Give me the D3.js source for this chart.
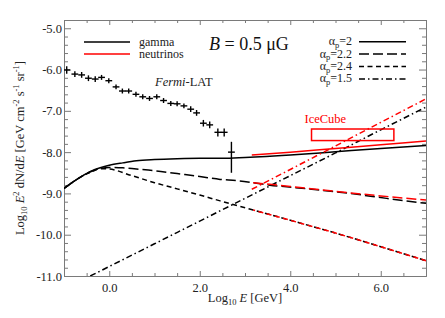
<!DOCTYPE html>
<html lang="en">
<head>
<meta charset="UTF-8">
<title>Gamma and neutrino spectra</title>
<script src="https://cdnjs.cloudflare.com/ajax/libs/d3/7.8.5/d3.min.js"></script>
<style>
  body { margin: 0; background: #fff; }
  svg { display: block; }
  .axis path, .axis line { stroke: #7a7a7a; }
  .axis text { fill: #222; font-size: 12.5px; }
</style>
</head>
<body>
<svg width="445" height="318"></svg>
<script>
// Fermi-LAT points (log10 E, log10 E^2 dN/dE, error)
const fermiX = [-0.94, -0.76, -0.61, -0.46, -0.31, -0.17, -0.01, 0.15, 0.29, 0.43, 0.59, 0.74, 0.89,
                1.05, 1.20, 1.36, 1.50, 1.65, 1.80, 1.93, 2.08, 2.22, 2.40, 2.54, 2.70];
const fermiY = [-6.01, -6.11, -6.13, -6.21, -6.23, -6.19, -6.27, -6.42, -6.52, -6.52, -6.60, -6.66, -6.70,
                -6.66, -6.75, -6.82, -6.83, -6.88, -6.96, -7.05, -7.30, -7.34, -7.52, -7.52, -8.00];
const fermiErrUp = [0.09, 0.07, 0.07, 0.07, 0.07, 0.06, 0.06, 0.06, 0.06, 0.06, 0.06, 0.06, 0.06,
                    0.06, 0.06, 0.06, 0.06, 0.06, 0.07, 0.07, 0.08, 0.08, 0.09, 0.09, 0.25];
const fermiErrDn = [0.09, 0.07, 0.07, 0.07, 0.07, 0.06, 0.06, 0.06, 0.06, 0.06, 0.06, 0.06, 0.06,
                    0.06, 0.06, 0.06, 0.06, 0.06, 0.07, 0.07, 0.08, 0.08, 0.10, 0.10, 0.50];

// gamma-ray curves
const gamma2X  = [-1, -0.8, -0.6, -0.4, -0.2, 0, 0.3, 0.6, 1.0, 1.5, 2.0, 2.5, 3.0, 4.0, 5.0, 6.0, 7.0];
const gamma2Y  = [-8.88, -8.72, -8.58, -8.46, -8.38, -8.32, -8.26, -8.21, -8.18, -8.16, -8.15, -8.15, -8.13, -8.07, -7.99, -7.91, -7.84];
const gamma22X = [-1, -0.8, -0.6, -0.4, -0.2, 0, 0.3, 0.6, 1.0, 1.5, 2.0, 2.45, 2.82, 3.18, 3.55, 3.92, 4.66, 5.39, 6.13, 7.0];
const gamma22Y = [-8.88, -8.72, -8.58, -8.47, -8.40, -8.37, -8.38, -8.41, -8.45, -8.52, -8.59, -8.66, -8.69, -8.74, -8.80, -8.84, -8.92, -9.01, -9.12, -9.24];
const gamma24X = [-1, -0.8, -0.6, -0.4, -0.2, 0, 0.5, 1.0, 1.5, 2.0, 2.45, 3.18, 4.0, 5.0, 6.0, 7.0];
const gamma24Y = [-8.88, -8.72, -8.58, -8.48, -8.40, -8.41, -8.57, -8.74, -8.89, -9.04, -9.18, -9.40, -9.65, -9.96, -10.29, -10.63];
const gamma15X = [-0.42, 0, 1, 2, 3, 4, 5, 6, 7];
const gamma15Y = [-11.0, -10.77, -10.22, -9.67, -9.12, -8.57, -8.02, -7.46, -6.91];

// neutrino curves
const nu2X  = [3.15, 4, 5, 6, 7];
const nu2Y  = [-8.07, -8.00, -7.91, -7.82, -7.73];
const nu22X = [3.18, 4, 5, 6, 7];
const nu22Y = [-8.74, -8.83, -8.95, -9.06, -9.16];
const nu24X = [3.18, 4.0, 5.0, 6.0, 7.0];
const nu24Y = [-9.40, -9.65, -9.96, -10.29, -10.63];
const nu15X = [3.15, 4, 5, 6, 7];
const nu15Y = [-8.90, -8.42, -7.85, -7.28, -6.71];

// IceCube box [xmin, xmax], [ymin, ymax]
const iceX = [4.47, 6.29];
const iceY = [-7.72, -7.44];

const xTicks = [0, 2, 4, 6];
const yTicks = [-11, -10, -9, -8, -7, -6, -5];

const legendLabels = ["2", "2.2", "2.4", "1.5"];
const dashes = [null, "10,4", "5,3.5", "6,3,1.5,3"];

const serif = '"Liberation Serif", "Times New Roman", serif';
const svg = d3.select("svg");
const pLeft = 64, pRight = 426, pTop = 20, pBottom = 276;

const x = d3.scaleLinear().domain([-1, 7]).range([pLeft, pRight]);
const y = d3.scaleLinear().domain([-11, -4.8]).range([pBottom, pTop]);

const fmt = d => d.toFixed(1);
const xMinor = d3.range(-1, 7.01, 0.5).filter(v => !xTicks.includes(v));
const yMinor = d3.range(-11, -4.79, 0.2).map(v => +v.toFixed(1)).filter(v => !yTicks.includes(v));

// axes: labels on bottom/left, ticks all round pointing inward
svg.append("g").attr("class", "axis").attr("transform", `translate(0,${pBottom})`)
    .call(d3.axisBottom(x).tickValues(xTicks).tickSizeInner(-5).tickSizeOuter(0).tickPadding(7).tickFormat(fmt));
svg.append("g").attr("class", "axis").attr("transform", `translate(0,${pBottom})`)
    .call(d3.axisBottom(x).tickValues(xMinor).tickSizeInner(-3).tickSizeOuter(0).tickFormat(""));
svg.append("g").attr("class", "axis").attr("transform", `translate(0,${pTop})`)
    .call(d3.axisTop(x).tickValues(xTicks).tickSizeInner(-5).tickSizeOuter(0).tickFormat(""));
svg.append("g").attr("class", "axis").attr("transform", `translate(0,${pTop})`)
    .call(d3.axisTop(x).tickValues(xMinor).tickSizeInner(-3).tickSizeOuter(0).tickFormat(""));

svg.append("g").attr("class", "axis").attr("transform", `translate(${pLeft},0)`)
    .call(d3.axisLeft(y).tickValues(yTicks).tickSizeInner(-7).tickSizeOuter(0).tickPadding(2).tickFormat(fmt));
svg.append("g").attr("class", "axis").attr("transform", `translate(${pLeft},0)`)
    .call(d3.axisLeft(y).tickValues(yMinor).tickSizeInner(-4).tickSizeOuter(0).tickFormat(""));
svg.append("g").attr("class", "axis").attr("transform", `translate(${pRight},0)`)
    .call(d3.axisRight(y).tickValues(yTicks).tickSizeInner(-7).tickSizeOuter(0).tickFormat(""));
svg.append("g").attr("class", "axis").attr("transform", `translate(${pRight},0)`)
    .call(d3.axisRight(y).tickValues(yMinor).tickSizeInner(-4).tickSizeOuter(0).tickFormat(""));

svg.append("defs").append("clipPath").attr("id", "plot")
    .append("rect").attr("x", pLeft).attr("y", pTop).attr("width", pRight - pLeft).attr("height", pBottom - pTop);

const plot = svg.append("g").attr("clip-path", "url(#plot)");
const line = d3.line().x(d => x(d[0])).y(d => y(d[1])).curve(d3.curveMonotoneX);

function curve(xs, ys, color, dash, offset) {
    plot.append("path")
        .attr("d", line(d3.zip(xs, ys)))
        .attr("fill", "none")
        .attr("stroke", color)
        .attr("stroke-width", 1.5)
        .attr("stroke-dasharray", dash)
        .attr("stroke-dashoffset", offset || 0);
}

curve(gamma2X, gamma2Y, "#000", dashes[0]);
curve(gamma22X, gamma22Y, "#000", dashes[1]);
curve(gamma24X, gamma24Y, "#000", dashes[2]);
curve(gamma15X, gamma15Y, "#000", dashes[3]);
curve(nu2X, nu2Y, "#f00", dashes[0]);
curve(nu22X, nu22Y, "#f00", dashes[1]);
curve(nu24X, nu24Y, "#f00", dashes[2], 3);
curve(nu15X, nu15Y, "#f00", dashes[3]);

// IceCube box
plot.append("rect")
    .attr("x", x(iceX[0])).attr("y", y(iceY[1]))
    .attr("width", x(iceX[1]) - x(iceX[0])).attr("height", y(iceY[0]) - y(iceY[1]))
    .attr("fill", "none").attr("stroke", "#f00").attr("stroke-width", 1.5);
svg.append("text").attr("x", x(iceX[0]) - 7).attr("y", y(iceY[1]) - 6)
    .attr("fill", "#f00").attr("font-size", 12.5).text("IceCube");

// Fermi-LAT points
const fermi = d3.range(fermiX.length).map(i => ({ x: fermiX[i], y: fermiY[i], up: fermiErrUp[i], dn: fermiErrDn[i] }));
const pts = plot.append("g").attr("stroke", "#000").attr("stroke-width", 1.4);
pts.selectAll(".v").data(fermi).join("line").attr("class", "v")
    .attr("x1", d => x(d.x)).attr("x2", d => x(d.x))
    .attr("y1", d => y(d.y + d.up)).attr("y2", d => y(d.y - d.dn));
pts.selectAll(".h").data(fermi).join("line").attr("class", "h")
    .attr("x1", d => x(d.x - 0.075)).attr("x2", d => x(d.x + 0.075))
    .attr("y1", d => y(d.y)).attr("y2", d => y(d.y));

svg.append("text").attr("x", 155).attr("y", 86).attr("font-size", 12.5).attr("fill", "#222")
    .html('<tspan font-style="italic">Fermi</tspan>-LAT');

// title
svg.append("text").attr("x", 209).attr("y", 50).attr("font-size", 18).attr("fill", "#111")
    .html('<tspan font-style="italic">B</tspan> = 0.5 μG');

// left legend
const lg = [["gamma", "#000"], ["neutrinos", "#f00"]];
lg.forEach((d, i) => {
    const yy = 42 + i * 12;
    svg.append("line").attr("x1", 84).attr("x2", 130).attr("y1", yy).attr("y2", yy)
        .attr("stroke", d[1]).attr("stroke-width", 1.5);
    svg.append("text").attr("x", 139).attr("y", yy + 3.5).attr("font-size", 12).attr("fill", "#222").text(d[0]);
});

// right legend
legendLabels.forEach((d, i) => {
    const yy = 41.7 + i * 12.4;
    svg.append("line").attr("x1", 359).attr("x2", 406).attr("y1", yy).attr("y2", yy)
        .attr("stroke", "#000").attr("stroke-width", 1.5).attr("stroke-dasharray", dashes[i]);
    svg.append("text").attr("x", 352).attr("y", yy + 3.5).attr("font-size", 12).attr("fill", "#222")
        .attr("text-anchor", "end")
        .html(`α<tspan font-size="8.5" dy="2.5">p</tspan><tspan dy="-2.5">=${d}</tspan>`);
});

// axis titles
svg.append("text").attr("x", 245).attr("y", 302).attr("font-size", 12.5).attr("fill", "#222")
    .attr("text-anchor", "middle")
    .html('Log<tspan font-size="8.5" dy="3">10</tspan><tspan dy="-3"> </tspan><tspan font-style="italic">E</tspan> [GeV]');

svg.append("text").attr("transform", "translate(24,148) rotate(-90)").attr("font-size", 12.5).attr("fill", "#222")
    .attr("text-anchor", "middle")
    .html('Log<tspan font-size="8.5" dy="3">10</tspan><tspan dy="-3"> </tspan><tspan font-style="italic">E</tspan><tspan font-size="8.5" dy="-5">2</tspan><tspan dy="5"> dN/d</tspan><tspan font-style="italic">E</tspan> [GeV cm<tspan font-size="8.5" dy="-5">-2</tspan><tspan dy="5"> s</tspan><tspan font-size="8.5" dy="-5">-1</tspan><tspan dy="5"> sr</tspan><tspan font-size="8.5" dy="-5">-1</tspan><tspan dy="5">]</tspan>');

// one serif face for every text, axes included
svg.selectAll("text").attr("font-family", serif);
svg.selectAll("g.axis").attr("font-family", serif);
</script>
</body>
</html>
